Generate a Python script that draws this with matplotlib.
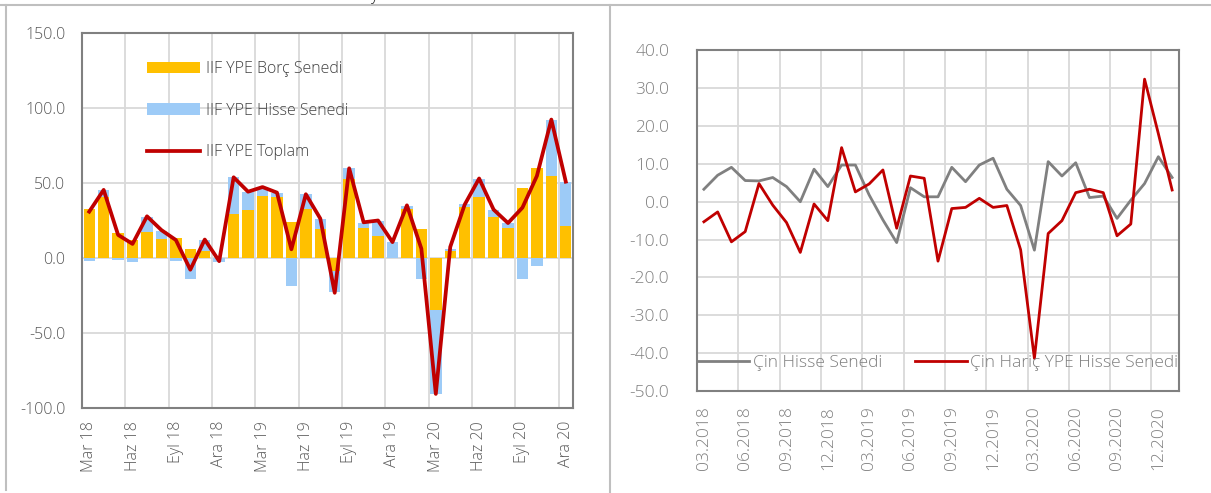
import matplotlib
matplotlib.use("Agg")
import matplotlib.pyplot as plt
from matplotlib.lines import Line2D
import numpy as np

plt.rcParams['font.family'] = ['Open Sans', 'DejaVu Sans']
plt.rcParams['font.weight'] = 'light'

# ---------------- Left chart data ----------------
left_labels = ["Mar 18", "Nis 18", "May 18", "Haz 18", "Tem 18", "Ağu 18", "Eyl 18", "Eki 18", "Kas 18", "Ara 18",
               "Oca 19", "Şub 19", "Mar 19", "Nis 19", "May 19", "Haz 19", "Tem 19", "Ağu 19", "Eyl 19", "Eki 19",
               "Kas 19", "Ara 19", "Oca 20", "Şub 20", "Mar 20", "Nis 20", "May 20", "Haz 20", "Tem 20", "Ağu 20",
               "Eyl 20", "Eki 20", "Kas 20", "Ara 20"]
borc = [32.9, 40.7, 16.7, 12.0, 17.8, 12.9, 13.6, 6.2, 4.7, 0.3,
        29.8, 32.0, 41.5, 41.1, 24.2, 32.7, 19.3, -8.4, 52.9, 20.0,
        14.9, 0.5, 33.0, 19.6, -34.4, 4.7, 34.0, 40.7, 27.8, 20.0,
        47.1, 60.0, 55.1, 21.8]
hisse = [-1.8, 4.7, -1.3, -2.5, 10.0, 5.1, -1.8, -13.6, 7.5, -2.2,
         24.2, 12.2, 6.0, 2.7, -18.2, 10.0, 6.9, -14.3, 7.1, 3.8,
         10.0, 10.4, 2.1, -13.6, -56.0, 1.7, 2.0, 12.2, 4.4, 3.8,
         -13.6, -5.1, 37.1, 29.3]
toplam = [31.1, 45.6, 15.6, 9.6, 28.0, 18.8, 12.2, -7.6, 12.5, -1.9,
          54.0, 44.4, 47.5, 43.8, 6.0, 42.7, 26.5, -23.0, 60.0, 24.0,
          25.2, 10.8, 35.3, 6.4, -90.4, 7.6, 35.8, 53.2, 32.5, 23.5,
          33.8, 54.9, 92.5, 51.1]
left_series = ["IIF YPE Borç Senedi", "IIF YPE Hisse Senedi", "IIF YPE Toplam"]

# ---------------- Right chart data ----------------
right_labels = ["03.2018", "04.2018", "05.2018", "06.2018", "07.2018", "08.2018", "09.2018", "10.2018", "11.2018", "12.2018",
                "01.2019", "02.2019", "03.2019", "04.2019", "05.2019", "06.2019", "07.2019", "08.2019", "09.2019", "10.2019",
                "11.2019", "12.2019", "01.2020", "02.2020", "03.2020", "04.2020", "05.2020", "06.2020", "07.2020", "08.2020",
                "09.2020", "10.2020", "11.2020", "12.2020", "01.2021"]
cin = [3.3, 7.0, 9.1, 5.6, 5.5, 6.4, 4.0, 0.0, 8.6, 4.0,
       9.7, 9.7, 1.8, -4.8, -10.8, 3.7, 1.3, 1.3, 9.1, 5.3,
       9.7, 11.5, 3.3, -1.0, -12.8, 10.6, 6.8, 10.3, 1.1, 1.5,
       -4.4, 0.4, 4.8, 11.9, 6.4]
cin_haric = [-5.3, -2.7, -10.6, -7.9, 4.8, -0.9, -5.5, -13.4, -0.6, -5.0,
             14.3, 2.6, 4.7, 8.4, -7.0, 6.8, 6.2, -15.7, -1.8, -1.5,
             0.9, -1.5, -1.0, -12.7, -41.4, -8.4, -5.0, 2.4, 3.3, 2.4,
             -9.0, -5.9, 32.4, 18.0, 3.1]
right_series = ["Çin Hisse Senedi", "Çin Hariç YPE Hisse Senedi"]

YELLOW = "#FFC000"
BLUE = "#9DCBF7"
RED = "#C00000"
GRAY = "#808080"
GRID = "#D9D9D9"

W, H = 1211, 493
fig = plt.figure(figsize=(W / 100, H / 100), dpi=100)

def frac_axes(l, t, r, b):
    return fig.add_axes([l / W, 1 - b / H, (r - l) / W, (b - t) / H])

# ---------------- Left axes ----------------
ax1 = frac_axes(82, 33.3, 573, 408.3)
x1 = np.arange(len(left_labels))
b = np.array(borc)
h = np.array(hisse)
h_bottom = np.where(np.sign(h) == np.sign(b), b, 0.0)
hb = ax1.bar(x1, b, width=0.79, color=YELLOW, zorder=2, label=left_series[0])
hh = ax1.bar(x1, h, width=0.79, bottom=h_bottom, color=BLUE, zorder=2, label=left_series[1])
hl, = ax1.plot(x1, toplam, color=RED, lw=2.7, zorder=3, label=left_series[2])
ax1.set_xlim(-0.5, len(left_labels) - 0.5)
ax1.set_ylim(-100, 150)
ax1.set_yticks(np.arange(-100, 151, 50))
ax1.set_yticklabels([f"{v:.1f}" for v in np.arange(-100, 151, 50)])
ax1.set_xticks(x1[::3])
ax1.set_xticklabels(left_labels[::3], rotation=90)
ax1.set_xticks(np.arange(2.5, len(left_labels) - 1, 3), minor=True)
ax1.grid(which='major', axis='y', color=GRID, lw=1.3, zorder=0)
ax1.grid(which='minor', axis='x', color=GRID, lw=1.3, zorder=0)
ax1.tick_params(which='both', length=0)
ax1.tick_params(axis='y', pad=12, labelsize=11.5, labelcolor="#595959")
ax1.tick_params(axis='x', pad=9, labelsize=11.5, labelcolor="#595959")
ax1.set_axisbelow(True)
for s in ax1.spines.values():
    s.set_color(GRAY)
    s.set_linewidth(1.5)
ax1.legend([hb, hh, hl], left_series, loc='upper left',
           bbox_to_anchor=((147 - 82) / 491, (408.3 - 61) / 375), frameon=False,
           fontsize=11.5, handlelength=3.3, handleheight=0.7, handletextpad=0.4, labelspacing=1.6,
           borderpad=0, borderaxespad=0, labelcolor="#404040")

# ---------------- Right axes ----------------
ax2 = frac_axes(697, 50.4, 1179, 390.9)
x2 = np.arange(len(right_labels))
ax2.plot(x2, cin, color=GRAY, lw=2.0, zorder=3, label=right_series[0])
ax2.plot(x2, cin_haric, color=RED, lw=2.0, zorder=3, label=right_series[1])
ax2.set_xlim(-0.5, len(right_labels) - 0.5)
ax2.set_ylim(-50, 40)
yt = np.arange(-50, 41, 10)
ax2.set_yticks(yt)
ax2.set_yticklabels([f"{v:.1f}" for v in yt])
ax2.set_xticks(x2[:34:3])
ax2.set_xticklabels(right_labels[:34:3], rotation=90)
ax2.set_xticks(np.arange(2.5, 33, 3), minor=True)
ax2.grid(which='major', axis='y', color=GRID, lw=1.3, zorder=0)
ax2.grid(which='minor', axis='x', color=GRID, lw=1.3, zorder=0)
ax2.tick_params(which='both', length=0)
ax2.tick_params(axis='y', pad=20, labelsize=12.5, labelcolor="#7F7F7F")
ax2.tick_params(axis='x', pad=11, labelsize=12.5, labelcolor="#7F7F7F")
ax2.set_axisbelow(True)
for s in ax2.spines.values():
    s.set_color(GRAY)
    s.set_linewidth(1.5)
ax2.legend(loc='center left', bbox_to_anchor=(0, (390.9 - 363) / 340.5), ncol=2, frameon=False,
           fontsize=12.5, handlelength=3.0, handletextpad=0.2, columnspacing=1.9,
           borderpad=0, borderaxespad=0, labelcolor="#7F7F7F")

# ---------------- Panel borders ----------------
border = "#BFBFBF"
fig.add_artist(Line2D([0, 1], [1 - 4.5 / H, 1 - 4.5 / H], color=border, lw=1.5, transform=fig.transFigure))
fig.add_artist(Line2D([610 / W, 610 / W], [1 - 4.5 / H, 1 - 492 / H], color=border, lw=1.5, transform=fig.transFigure))
fig.add_artist(Line2D([5.5 / W, 5.5 / W], [1 - 4.5 / H, 1 - 490 / H], color=border, lw=1.5, transform=fig.transFigure))
fig.text(371 / W, 1 - 0.5 / H, "y", fontsize=12, color="#222222", va='baseline', ha='left')

fig.savefig("out.png", dpi=100)
